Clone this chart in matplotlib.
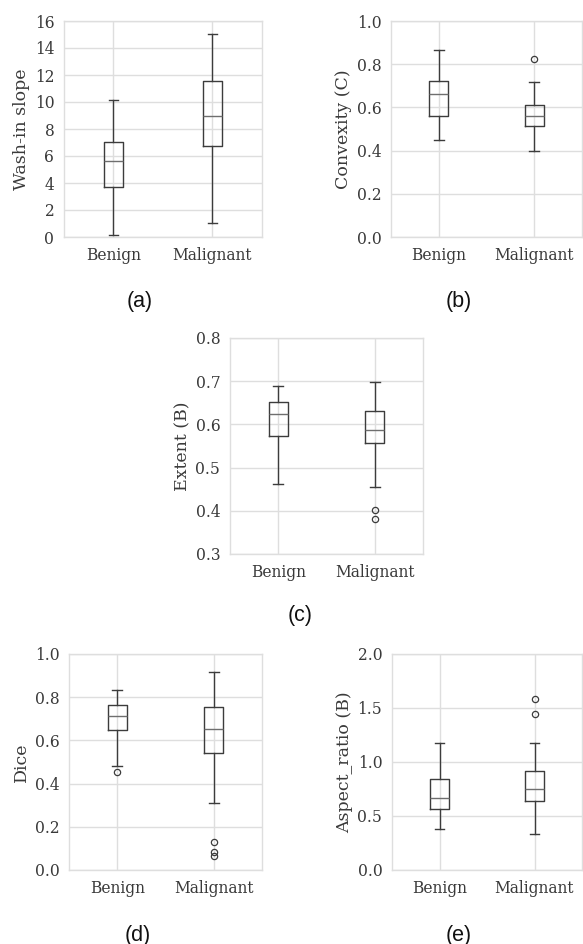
import matplotlib
matplotlib.use("Agg")
import matplotlib.pyplot as plt

# ================== DATA ============================================
GROUPS = ["Benign", "Malignant"]

# (a) Wash-in slope
wash_med = [5.60, 8.99]
wash_q1 = [3.73, 6.72]
wash_q3 = [7.06, 11.58]
wash_lo = [0.12, 1.06]
wash_hi = [10.17, 15.04]
wash_fliers = [[], []]

# (b) Convexity (C)
conv_med = [0.662, 0.560]
conv_q1 = [0.560, 0.514]
conv_q3 = [0.721, 0.611]
conv_lo = [0.451, 0.397]
conv_hi = [0.864, 0.716]
conv_fliers = [[], [0.823]]

# (c) Extent (B)
ext_med = [0.623, 0.588]
ext_q1 = [0.573, 0.558]
ext_q3 = [0.652, 0.632]
ext_lo = [0.463, 0.455]
ext_hi = [0.688, 0.699]
ext_fliers = [[], [0.402, 0.382]]

# (d) Dice
dice_med = [0.713, 0.655]
dice_q1 = [0.649, 0.541]
dice_q3 = [0.765, 0.754]
dice_lo = [0.482, 0.308]
dice_hi = [0.832, 0.918]
dice_fliers = [[0.456], [0.131, 0.082, 0.065]]

# (e) Aspect_ratio (B)
asp_med = [0.668, 0.751]
asp_q1 = [0.566, 0.637]
asp_q3 = [0.844, 0.915]
asp_lo = [0.380, 0.337]
asp_hi = [1.172, 1.178]
asp_fliers = [[], [1.583, 1.444]]

# ================== STYLE ===================
W, H = 583, 944
plt.rcParams["font.family"] = ["DejaVu Serif"]
plt.rcParams["font.size"] = 11
TEXT = "#3a3a3a"
GRID = "#dedede"
BOX = "#3c3c3c"
MED = "#6e6e6e"


def make_stats(med, q1, q3, lo, hi, fliers):
    return [dict(med=med[i], q1=q1[i], q3=q3[i], whislo=lo[i], whishi=hi[i],
                 fliers=fliers[i], label=GROUPS[i]) for i in range(len(GROUPS))]


def px_axes(fig, left, top, right, bottom):
    # axes placed in pixel coordinates of the 583x944 reference
    return fig.add_axes([left / W, 1 - bottom / H, (right - left) / W, (bottom - top) / H])


def draw_panel(ax, stats, ylabel, ylim, yticks, fmt):
    ax.bxp(stats, positions=[1, 2], widths=0.2, patch_artist=False,
           boxprops=dict(color=BOX, lw=1.0),
           whiskerprops=dict(color=BOX, lw=1.0),
           capprops=dict(color=BOX, lw=1.0),
           medianprops=dict(color=MED, lw=1.0),
           flierprops=dict(marker="o", markersize=4.5, markerfacecolor="none",
                           markeredgecolor=BOX, markeredgewidth=0.9))
    ax.set_xlim(0.5, 2.5)
    ax.set_ylim(*ylim)
    ax.set_yticks(yticks)
    ax.set_yticklabels([fmt.format(v) for v in yticks])
    ax.set_xticks([1, 2])
    ax.set_xticklabels(GROUPS)
    ax.set_ylabel(ylabel, color=TEXT, fontsize=12.5, labelpad=3)
    ax.grid(True, color=GRID, lw=1.0)
    ax.set_axisbelow(True)
    for s in ax.spines.values():
        s.set_color(GRID)
        s.set_linewidth(1.0)
    ax.tick_params(length=0, colors=TEXT, pad=7, labelsize=11.2)


fig = plt.figure(figsize=(W / 100, H / 100), dpi=100)

ax_a = px_axes(fig, 64, 21, 262, 237)
draw_panel(ax_a, make_stats(wash_med, wash_q1, wash_q3, wash_lo, wash_hi, wash_fliers),
           "Wash-in slope", (0, 16), list(range(0, 17, 2)), "{:.0f}")

ax_b = px_axes(fig, 391, 21, 582, 237)
draw_panel(ax_b, make_stats(conv_med, conv_q1, conv_q3, conv_lo, conv_hi, conv_fliers),
           "Convexity (C)", (0, 1.0), [0, 0.2, 0.4, 0.6, 0.8, 1.0], "{:.1f}")

ax_c = px_axes(fig, 230, 338, 423, 554)
draw_panel(ax_c, make_stats(ext_med, ext_q1, ext_q3, ext_lo, ext_hi, ext_fliers),
           "Extent (B)", (0.3, 0.8), [0.3, 0.4, 0.5, 0.6, 0.7, 0.8], "{:.1f}")

ax_d = px_axes(fig, 69, 654, 262, 870)
draw_panel(ax_d, make_stats(dice_med, dice_q1, dice_q3, dice_lo, dice_hi, dice_fliers),
           "Dice", (0, 1.0), [0, 0.2, 0.4, 0.6, 0.8, 1.0], "{:.1f}")

ax_e = px_axes(fig, 392, 654, 582, 870)
draw_panel(ax_e, make_stats(asp_med, asp_q1, asp_q3, asp_lo, asp_hi, asp_fliers),
           "Aspect_ratio (B)", (0, 2.0), [0, 0.5, 1.0, 1.5, 2.0], "{:.1f}")

# panel letters
for lbl, x, y in [("(a)", 139.5, 302), ("(b)", 459, 302), ("(c)", 300, 616),
                  ("(d)", 137.5, 935), ("(e)", 459, 935)]:
    fig.text(x / W, 1 - y / H, lbl, ha="center", va="center", fontsize=15.5,
             family=["Liberation Sans", "DejaVu Sans"], color="#111111")

fig.savefig("out.png", dpi=100)
